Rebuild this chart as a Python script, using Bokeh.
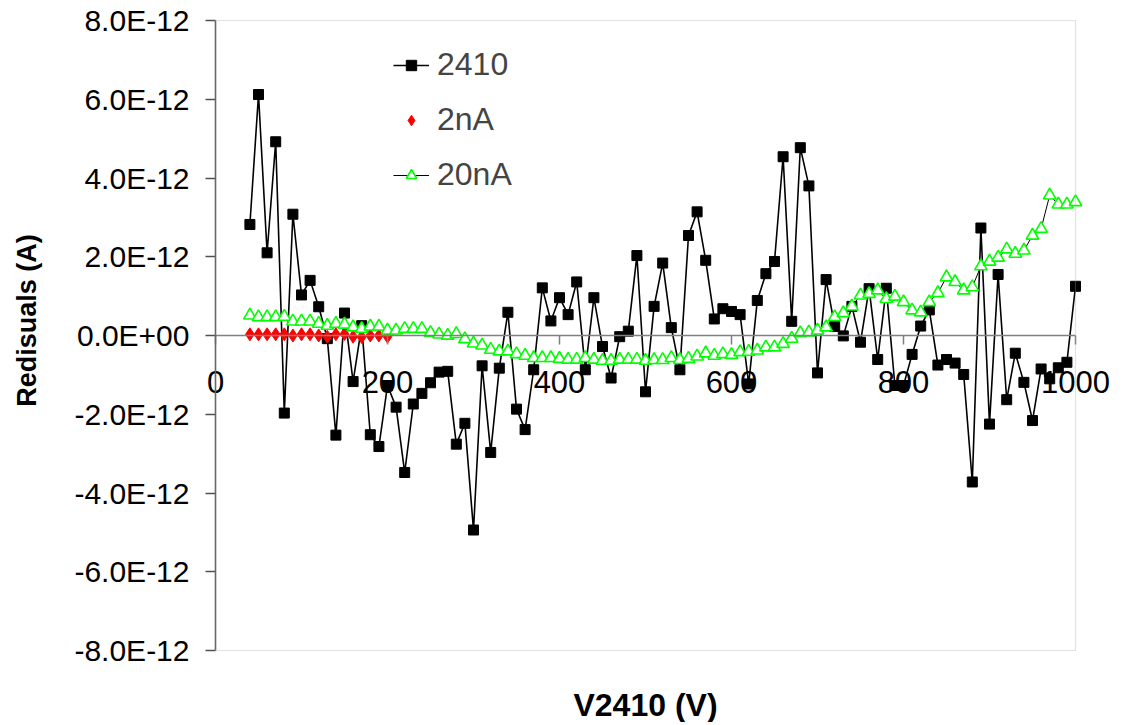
import math
from bokeh.plotting import figure
from bokeh.models import (FixedTicker, CustomJSTickFormatter, Legend, LegendItem,
                          Label, Range1d, BoxAnnotation)
from bokeh.embed import file_html
from bokeh.resources import INLINE

# ---------------- data ----------------
V2410 = list(range(40, 1001, 10))      # bias voltage (V), 2410 & 20nA series
V2NA = list(range(40, 201, 10))        # bias voltage (V), 2nA series

# residuals in pA (x 1E-12 A)
RES_2410_PA = [
    2.82, 6.12, 2.10, 4.92, -1.97, 3.08, 1.03, 1.40, 0.73, -0.08,
    -2.53, 0.57, -1.17, 0.25, -2.52, -2.82, -1.27, -1.82, -3.48, -1.74,
    -1.47, -1.20, -0.93, -0.91, -2.76, -2.23, -4.94, -0.77, -2.97, -0.83,
    0.59, -1.87, -2.39, -0.87, 1.21, 0.37, 0.96, 0.53, 1.36, -0.87,
    0.96, -0.28, -1.08, -0.03, 0.11, 2.03, -1.43, 0.74, 1.84, 0.20,
    -0.87, 2.54, 3.14, 1.91, 0.42, 0.68, 0.61, 0.53, -1.23, 0.89,
    1.57, 1.88, 4.54, 0.36, 4.77, 3.80, -0.95, 1.42, 0.23, -0.01,
    0.74, -0.17, 1.19, -0.61, 1.20, -1.27, -1.27, -0.48, 0.24, 0.65,
    -0.75, -0.61, -0.70, -0.99, -3.72, 2.73, -2.25, 1.55, -1.63, -0.45,
    -1.19, -2.16, -0.85, -1.10, -0.82, -0.68, 1.25,
]
RES_2NA_PA = [
    0.03, 0.03, 0.03, 0.03, 0.03, 0.00, 0.03, 0.03, 0.00, -0.03,
    0.03, 0.04, -0.03, -0.04, 0.00, 0.00, -0.03,
]
RES_20NA_PA = [
    0.51, 0.47, 0.47, 0.47, 0.48, 0.36, 0.36, 0.36, 0.30, 0.25,
    0.30, 0.28, 0.21, 0.17, 0.23, 0.23, 0.13, 0.13, 0.17, 0.17,
    0.17, 0.07, 0.03, 0.00, 0.04, -0.09, -0.20, -0.25, -0.36, -0.40,
    -0.40, -0.47, -0.51, -0.57, -0.57, -0.57, -0.59, -0.61, -0.61, -0.57,
    -0.61, -0.64, -0.64, -0.61, -0.61, -0.61, -0.64, -0.62, -0.62, -0.57,
    -0.62, -0.59, -0.53, -0.45, -0.51, -0.47, -0.49, -0.42, -0.41, -0.38,
    -0.30, -0.30, -0.21, -0.08, 0.06, 0.08, 0.13, 0.21, 0.47, 0.57,
    0.74, 1.02, 1.06, 1.15, 0.93, 0.99, 0.85, 0.64, 0.59, 0.85,
    1.08, 1.48, 1.36, 1.15, 1.23, 1.76, 1.88, 1.98, 2.19, 2.08,
    2.16, 2.54, 2.71, 3.56, 3.33, 3.33, 3.39,
]

X_MIN, X_MAX = 0, 1000
Y_MIN_PA, Y_MAX_PA = -8, 8
X_TICKS = [0, 200, 400, 600, 800, 1000]
Y_TICKS_PA = [-8, -6, -4, -2, 0, 2, 4, 6, 8]
SERIES_NAMES = ["2410", "2nA", "20nA"]
X_TITLE = "V2410 (V)"
Y_TITLE = "Redisuals (A)"

PA = 1e-12
res_2410 = [v * PA for v in RES_2410_PA]
res_2na = [v * PA for v in RES_2NA_PA]
res_20na = [v * PA for v in RES_20NA_PA]

# ---------------- layout (pixels) ----------------
W, H = 1115, 722
PLOT_L, PLOT_R, PLOT_T, PLOT_B = 215, 1075, 20, 650
px_per_x = (PLOT_R - PLOT_L) / (X_MAX - X_MIN)
px_per_y = (PLOT_B - PLOT_T) / (Y_MAX_PA - Y_MIN_PA)
x_start = X_MIN - PLOT_L / px_per_x
x_end = X_MAX + (W - PLOT_R) / px_per_x
y_top = Y_MAX_PA + PLOT_T / px_per_y
y_bot = Y_MIN_PA - (H - PLOT_B) / px_per_y


def data_x(px):
    return x_start + px / px_per_x


def data_y(py):
    return (y_top - py / px_per_y) * PA


FONT = "Liberation Sans"

p = figure(width=W, height=H, output_backend="svg", toolbar_location=None,
           title=None,
           x_range=Range1d(x_start, x_end), y_range=Range1d(y_bot * PA, y_top * PA),
           min_border=0, min_border_left=0, min_border_right=0,
           min_border_top=0, min_border_bottom=0)

p.xgrid.visible = False
p.ygrid.visible = False
p.outline_line_color = None
p.background_fill_color = "white"
p.border_fill_color = "white"

# plot-area border
p.add_layout(BoxAnnotation(left=X_MIN, right=X_MAX, bottom=Y_MIN_PA * PA,
                           top=Y_MAX_PA * PA, fill_color=None, fill_alpha=0,
                           line_color="#A0A0A0", line_width=1.2))

# x axis crossing at y = 0
xa = p.xaxis[0]
xa.fixed_location = 0
xa.bounds = (X_MIN, X_MAX)
xa.ticker = FixedTicker(ticks=X_TICKS)
xa.axis_line_color = "#808080"
xa.axis_line_width = 1.5
xa.major_tick_line_color = "#808080"
xa.major_tick_line_width = 1.5
xa.major_tick_out = 9
xa.major_tick_in = 0
xa.minor_tick_line_color = None
xa.major_label_text_font = FONT
xa.major_label_text_font_size = "31px"
xa.major_label_text_color = "black"
xa.major_label_standoff = 26

# y axis at x = 0
ya = p.yaxis[0]
ya.fixed_location = 0
ya.bounds = (Y_MIN_PA * PA, Y_MAX_PA * PA)
ya.ticker = FixedTicker(ticks=[t * PA for t in Y_TICKS_PA])
ya.formatter = CustomJSTickFormatter(code="""
const a = Math.abs(tick);
if (a < 1e-20) { return "0.0E+00"; }
const e = Math.floor(Math.log10(a) + 1e-9);
const m = tick / Math.pow(10, e);
const ae = Math.abs(e);
return m.toFixed(1) + "E" + (e < 0 ? "-" : "+") + (ae < 10 ? "0" : "") + ae;
""")
ya.axis_line_color = "#505050"
ya.axis_line_width = 1.5
ya.major_tick_line_color = "#505050"
ya.major_tick_line_width = 1.5
ya.major_tick_out = 10
ya.major_tick_in = 0
ya.minor_tick_line_color = None
ya.major_label_text_font = FONT
ya.major_label_text_font_size = "30px"
ya.major_label_text_color = "black"
ya.major_label_standoff = 16

# series
r1l = p.line(V2410, res_2410, line_color="black", line_width=1.6)
r1m = p.scatter(V2410, res_2410, marker="square", size=10,
                fill_color="black", line_color="black")
r2 = p.scatter(V2NA, res_2na, marker="diamond", size=13,
               fill_color="#FF0000", line_color="#FF0000")
r3l = p.line(V2410, res_20na, line_color="black", line_width=1)
r3m = p.scatter(V2410, res_20na, marker="triangle", size=12.5,
                fill_color="white", line_color="#00FF00", line_width=1.6)

legend = Legend(items=[
    LegendItem(label=SERIES_NAMES[0], renderers=[r1l, r1m]),
    LegendItem(label=SERIES_NAMES[1], renderers=[r2]),
    LegendItem(label=SERIES_NAMES[2], renderers=[r3l, r3m]),
], location=(393, 529), border_line_color=None, background_fill_alpha=0,
    label_text_font=FONT, label_text_font_size="32px",
    glyph_width=36, glyph_height=26, spacing=18, padding=0, margin=0,
    label_standoff=8)
p.add_layout(legend)

p.add_layout(Label(x=(X_MIN + X_MAX) / 2, y=data_y(704), text=X_TITLE,
                   text_align="center", text_baseline="middle", text_font=FONT,
                   text_font_style="bold", text_font_size="32px", text_color="black"))
p.add_layout(Label(x=data_x(26), y=data_y(320), text=Y_TITLE, angle=math.pi / 2,
                   text_align="center", text_baseline="middle", text_font=FONT,
                   text_font_style="bold", text_font_size="27px", text_color="black"))

open("out.html", "w").write(file_html(p, INLINE))
